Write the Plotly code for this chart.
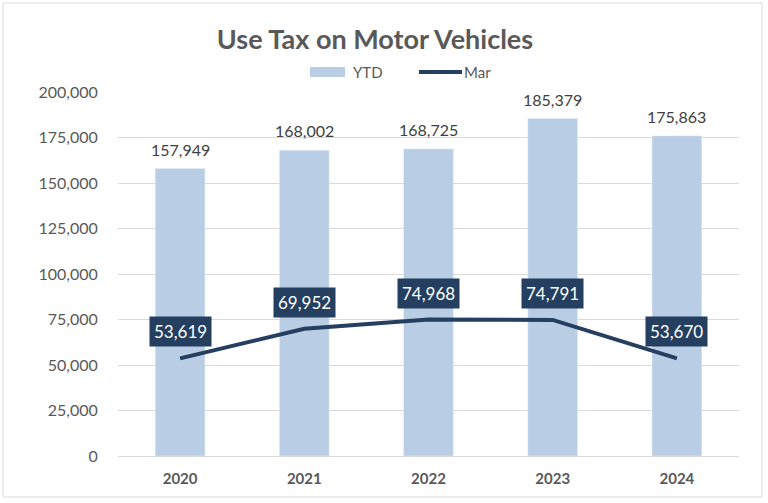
import plotly.graph_objects as go

years = ["2020", "2021", "2022", "2023", "2024"]
ytd = [157949, 168002, 168725, 185379, 175863]
mar = [53619, 69952, 74968, 74791, 53670]

W, H = 768, 503
ml, mr, mt, mb = 118, 29, 92, 47
pw, ph = W - ml - mr, H - mt - mb

BAR_C = "#B9CDE5"
LINE_C = "#243F60"
TXT_C = "#595959"
FONT = "Lato"

xs = list(range(len(years)))

def px2x(p):
    return (p - ml) / pw

def px2y(p):
    return 1 - (p - mt) / ph

fig = go.Figure()
fig.add_trace(go.Bar(
    x=xs, y=ytd, name="YTD", marker_color=BAR_C, width=0.4,
    showlegend=False, hoverinfo="y",
))
fig.add_trace(go.Scatter(
    x=xs, y=mar, name="Mar", mode="lines",
    line=dict(color=LINE_C, width=4), showlegend=False,
))
for x, v in zip(xs, ytd):
    fig.add_annotation(
        x=x, y=v, xref="x", yref="y", text=f"{v:,}", showarrow=False,
        yanchor="bottom", yshift=8,
        font=dict(color="#404040", size=16, family=FONT),
    )
for x, v in zip(xs, mar):
    fig.add_annotation(
        x=x, y=v, xref="x", yref="y", text=f"{v:,}", showarrow=False,
        yanchor="bottom", yshift=11,
        bgcolor=LINE_C, font=dict(color="white", size=17, family=FONT),
        borderpad=4,
    )

# chart border
fig.add_shape(type="rect", xref="paper", yref="paper",
              x0=px2x(3), x1=px2x(762), y0=px2y(3), y1=px2y(497),
              line=dict(color="#D9D9D9", width=1), layer="below")

# custom legend
fig.add_shape(type="rect", xref="paper", yref="paper",
              x0=px2x(310), x1=px2x(345), y0=px2y(77), y1=px2y(67),
              fillcolor=BAR_C, line=dict(width=0))
fig.add_annotation(xref="paper", yref="paper", x=px2x(351), y=px2y(72),
                   xanchor="left", yanchor="middle", text="YTD", showarrow=False,
                   font=dict(size=15, color=TXT_C, family=FONT))
fig.add_shape(type="line", xref="paper", yref="paper",
              x0=px2x(419), x1=px2x(462), y0=px2y(72), y1=px2y(72),
              line=dict(color=LINE_C, width=4))
fig.add_annotation(xref="paper", yref="paper", x=px2x(462), y=px2y(72),
                   xanchor="left", yanchor="middle", text="Mar", showarrow=False,
                   font=dict(size=15, color=TXT_C, family=FONT))

fig.update_layout(
    width=W, height=H, margin=dict(l=ml, r=mr, t=mt, b=mb),
    paper_bgcolor="white", plot_bgcolor="white",
    title=dict(text="<b>Use Tax on Motor Vehicles</b>", x=375 / W, xanchor="center",
               y=1 - 40 / H, yanchor="middle",
               font=dict(size=27, color=TXT_C, family=FONT)),
    showlegend=False,
    font=dict(family=FONT, color=TXT_C),
)
fig.update_xaxes(type="linear", range=[-0.5, len(years) - 0.5], autorange=False,
                 tickmode="array", tickvals=xs, ticktext=[f"<b>{y}</b>" for y in years],
                 showline=True, linecolor="#D9D9D9", linewidth=1,
                 ticks="outside", ticklen=9, tickcolor="rgba(0,0,0,0)",
                 showgrid=False, zeroline=False,
                 tickfont=dict(size=15, color=TXT_C, family=FONT))
fig.update_yaxes(range=[0, 200000], autorange=False, dtick=25000, tickformat=",",
                 showgrid=True, gridcolor="#D9D9D9", gridwidth=1, zeroline=False,
                 ticks="outside", ticklen=16, tickcolor="rgba(0,0,0,0)",
                 tickfont=dict(size=16, color=TXT_C, family=FONT))
fig.write_html("out.html", config={"displayModeBar": False},
               post_script="document.body.style.margin='0';")
